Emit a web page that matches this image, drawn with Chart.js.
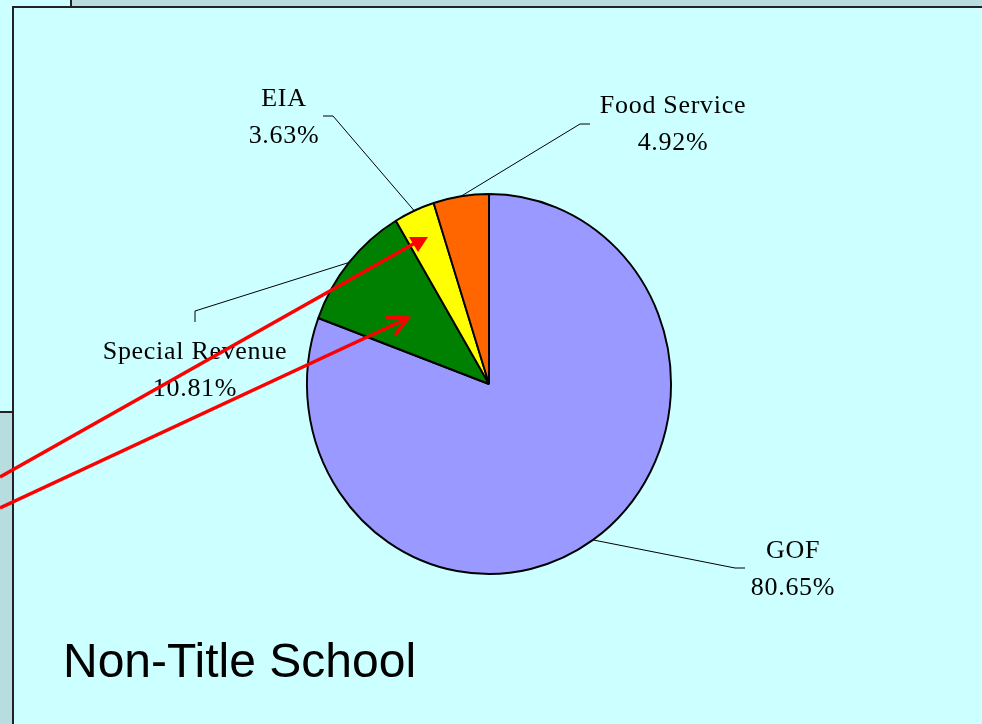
<!DOCTYPE html>
<html>
<head>
<meta charset="utf-8">
<script src="https://cdn.jsdelivr.net/npm/chart.js@4/dist/chart.umd.min.js"></script>
<style>
  html, body { margin: 0; padding: 0; }
  body { width: 982px; height: 724px; background: #ccffff; position: relative; overflow: hidden; }
  .box { position: absolute; background: #b8dde0; }
  .ln { position: absolute; background: #222; }
  #wrap { position: absolute; left: 0; top: 0; width: 982px; height: 724px; }
</style>
</head>
<body>
<div class="box" style="left:71px;top:0;width:911px;height:6px"></div>
<div class="box" style="left:0;top:412px;width:12px;height:312px"></div>
<div class="ln" style="left:12px;top:6px;width:970px;height:2px"></div>
<div class="ln" style="left:12px;top:6px;width:2px;height:718px"></div>
<div class="ln" style="left:70px;top:0;width:2px;height:7px"></div>
<div class="ln" style="left:0;top:411px;width:12px;height:2px"></div>
<div id="wrap"><canvas id="pie" width="982" height="724"></canvas></div>
<script>
document.addEventListener('DOMContentLoaded', function(){
  const categories = ['GOF', 'Special Revenue', 'EIA', 'Food Service'];
  const shares = [80.65, 10.81, 3.63, 4.92];
  const sliceColors = ['#9999ff', '#008000', '#ffff00', '#ff6600'];
  const chartTitle = 'Non-Title School';

  // where each label sits and how its leader line bends
  const labelSpots = [
    { x: 793, y: 551, elbow: [[735, 568], [745, 568]] },
    { x: 195, y: 352, elbow: [[195, 311], [195, 322]] },
    { x: 284, y: 99, elbow: [[333, 116], [323, 116]] },
    { x: 673, y: 106, elbow: [[580, 124], [590, 124]] }
  ];

  const squash = 183 / 191; // the pie in the slide is a little narrower than tall

  const ellipsePlugin = {
    id: 'ellipse',
    beforeDatasetsDraw(chart){
      const arc = chart.getDatasetMeta(0).data[0];
      const ctx = chart.ctx;
      ctx.save();
      ctx.translate(arc.x, arc.y);
      ctx.scale(squash, 1);
      ctx.translate(-arc.x, -arc.y);
    },
    afterDatasetsDraw(chart){
      chart.ctx.restore();
    }
  };

  const labelPlugin = {
    id: 'pieLabels',
    afterDraw(chart){
      const ctx = chart.ctx;
      const arcs = chart.getDatasetMeta(0).data;
      ctx.save();
      // leader lines
      ctx.strokeStyle = '#000';
      ctx.lineWidth = 1;
      arcs.forEach(function(arc, i){
        const mid = (arc.startAngle + arc.endAngle) / 2;
        const px = arc.x + Math.cos(mid) * arc.outerRadius * squash;
        const py = arc.y + Math.sin(mid) * arc.outerRadius;
        const spot = labelSpots[i];
        ctx.beginPath();
        ctx.moveTo(px, py);
        spot.elbow.forEach(function(p){ ctx.lineTo(p[0], p[1]); });
        ctx.stroke();
      });
      // labels
      ctx.fillStyle = '#000';
      ctx.font = '26px "Liberation Serif", "Times New Roman", serif';
      ctx.letterSpacing = '0.7px';
      ctx.textAlign = 'center';
      ctx.textBaseline = 'middle';
      arcs.forEach(function(arc, i){
        const spot = labelSpots[i];
        ctx.fillText(categories[i], spot.x, spot.y);
        ctx.fillText(shares[i].toFixed(2) + '%', spot.x, spot.y + 37);
      });
      ctx.letterSpacing = '0px';
      // title
      ctx.font = '48px "Liberation Sans", Arial, sans-serif';
      ctx.textAlign = 'left';
      ctx.textBaseline = 'alphabetic';
      ctx.fillText(chartTitle, 63, 677);

      // red callout arrows coming in from the left
      ctx.strokeStyle = '#ff0000';
      ctx.fillStyle = '#ff0000';
      ctx.lineWidth = 3.5;
      ctx.beginPath();
      ctx.moveTo(0, 477);
      ctx.lineTo(415, 243);
      ctx.stroke();
      ctx.beginPath();
      ctx.moveTo(428, 237);
      ctx.lineTo(409, 237);
      ctx.lineTo(418, 252);
      ctx.closePath();
      ctx.fill();

      ctx.beginPath();
      ctx.moveTo(0, 508);
      ctx.lineTo(408, 318);
      ctx.stroke();
      ctx.beginPath();
      ctx.moveTo(386, 317);
      ctx.lineTo(408, 318);
      ctx.lineTo(395, 335);
      ctx.stroke();
      ctx.restore();
    }
  };

  new Chart(document.getElementById('pie').getContext('2d'), {
    type: 'pie',
    data: {
      labels: categories,
      datasets: [{
        data: shares,
        backgroundColor: sliceColors,
        borderColor: '#000',
        borderWidth: 2
      }]
    },
    options: {
      responsive: false,
      animation: false,
      layout: { padding: { left: 298, right: 302, top: 193, bottom: 149 } },
      plugins: {
        legend: { display: false },
        tooltip: { enabled: false }
      }
    },
    plugins: [ellipsePlugin, labelPlugin]
  });
});
</script>
</body>
</html>
